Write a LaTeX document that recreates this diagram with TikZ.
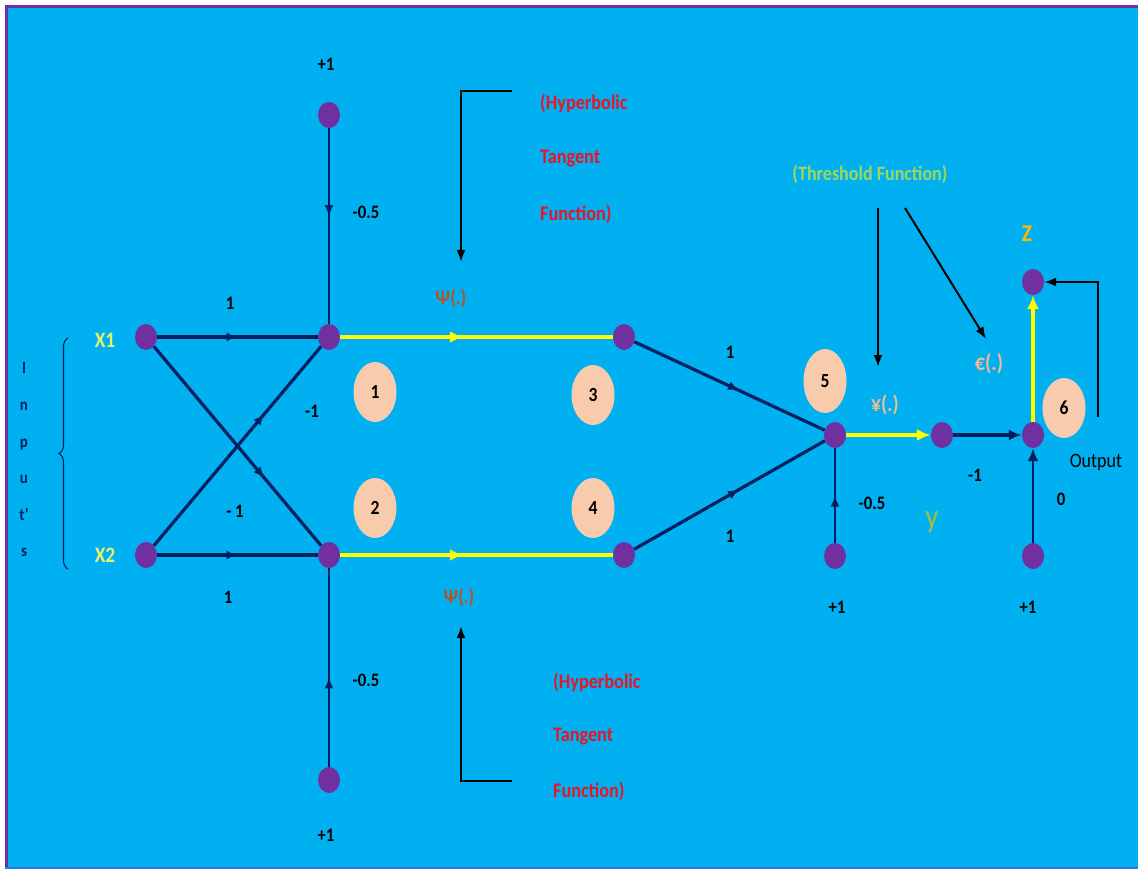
\documentclass[tikz,border=0pt]{standalone}
\usepackage{fontspec}
\setmainfont{Carlito}[FakeStretch=0.88]
\usetikzlibrary{arrows.meta,shapes.geometric,decorations.markings,decorations.pathreplacing}

\definecolor{bgblue}{RGB}{0,176,240}
\definecolor{framepurple}{RGB}{112,48,160}
\definecolor{bottomline}{RGB}{40,120,230}
\definecolor{unitpurple}{RGB}{112,48,160}
\definecolor{peach}{RGB}{248,203,173}
\definecolor{navy}{RGB}{0,32,96}
\definecolor{signal}{RGB}{255,255,0}
\definecolor{redtext}{RGB}{232,20,40}
\definecolor{greentext}{RGB}{160,215,90}
\definecolor{psitext}{RGB}{190,80,30}
\definecolor{functext}{RGB}{246,185,140}
\definecolor{ztext}{RGB}{255,185,0}
\definecolor{xtext}{RGB}{235,240,110}
\definecolor{ytext}{RGB}{165,190,60}

\tikzset{
  unit/.style={ellipse, fill=unitpurple, minimum width=22pt, minimum height=26pt, inner sep=0pt},
  numbox/.style={ellipse, fill=peach, minimum width=43pt, minimum height=60pt, inner sep=0pt,
    font=\bfseries\fontsize{20}{22}\selectfont, text=black},
  lbl/.style={inner sep=0pt, font=\bfseries\fontsize{19}{22}\selectfont, text=black},
  redlbl/.style={inner sep=0pt, anchor=west, font=\bfseries\fontsize{20.7}{24}\selectfont, text=redtext},
  midarrow/.style={postaction={decorate}, decoration={markings,
    mark=at position #1 with {\arrow{Latex[length=11pt,width=9pt]}}}},
  yelmid/.style={postaction={decorate}, decoration={markings,
    mark=at position #1 with {\arrow{Latex[length=13pt,width=12pt]}}}},
  wire/.style={draw=navy, line width=3.2pt},
  feed/.style={draw=signal, line width=4.5pt},
  pointer/.style={draw=black, line width=2pt, -{Latex[length=12pt,width=9pt]}},
}

\begin{document}
\begin{tikzpicture}[x=1pt, y=-1pt]
\useasboundingbox (0,0) rectangle (1138,869);
% page, panel and frame
\fill[white] (0,0) rectangle (1138,869);
\fill[bgblue] (5,5) rectangle (1138,869);
\draw[framepurple, line width=3pt] (6.5,869) -- (6.5,6.5) -- (1138,6.5);
\draw[bottomline, line width=2pt] (5,868) -- (1138,868);

% units
\node[unit] (x1) at (146,337) {};
\node[unit] (x2) at (146,555) {};
\node[unit] (b1) at (329,115) {};
\node[unit] (h1) at (329,337) {};
\node[unit] (h2) at (329,555) {};
\node[unit] (b2) at (329,780) {};
\node[unit] (n3) at (624,337) {};
\node[unit] (n4) at (624,555) {};
\node[unit] (n5) at (835,435) {};
\node[unit] (b5) at (835,556) {};
\node[unit] (n7) at (942,435) {};
\node[unit] (n6) at (1033,435) {};
\node[unit] (b6) at (1033,556) {};
\node[unit] (z)  at (1033,282) {};

% numbered neurons
\node[numbox] (c1) at (375,392) {1};
\node[numbox] (c2) at (375,508) {2};
\node[numbox] (c3) at (593,395) {3};
\node[numbox] (c4) at (593,508) {4};
\node[numbox, minimum height=64pt] (c5) at (825,381) {5};
\node[numbox] (c6) at (1064,408) {6};

% input layer
\draw[wire, midarrow=0.5]  (x1) -- (h1);
\draw[wire, midarrow=0.5]  (x2) -- (h2);
\draw[wire, midarrow=0.66] (x1) -- (h2);
\draw[wire, midarrow=0.66] (x2) -- (h1);
\draw[wire, line width=2.6pt, midarrow=0.45] (b1) -- (h1);
\draw[wire, line width=2.6pt, midarrow=0.45] (b2) -- (h2);

% hidden layer activations
\draw[feed, yelmid=0.45] (h1) -- (n3);
\draw[feed, yelmid=0.45] (h2) -- (n4);

% output neuron
\draw[wire, midarrow=0.55] (n3) -- (n5);
\draw[wire, midarrow=0.55] (n4) -- (n5);
\draw[wire, line width=2.6pt, midarrow=0.5] (b5) -- (n5);
\draw[feed, -{Latex[length=14pt,width=12pt]}] (n5) -- (n7);
\draw[wire, -{Latex[length=13pt,width=11pt]}] (n7) -- (n6);
\draw[wire, line width=2.6pt, -{Latex[length=13pt,width=11pt]}] (b6) -- (n6);
\draw[feed, line width=4pt, -{Latex[length=14pt,width=12pt]}] (n6) -- (z);

% feedback to Z
\coordinate (fb) at (1098,417);
\draw[pointer] (fb) |- (z);

% annotation pointers
\coordinate (ta) at (512,91);
\coordinate (tb) at (461,91);
\coordinate (tc) at (461,262);
\draw[pointer] (ta) -- (tb) -- (tc);
\coordinate (ba) at (512,781);
\coordinate (bb) at (461,781);
\coordinate (bc) at (461,626);
\draw[pointer] (ba) -- (bb) -- (bc);
\coordinate (tha) at (878,208);
\coordinate (thb) at (878,367);
\draw[pointer] (tha) -- (thb);
\coordinate (thc) at (905,208);
\coordinate (thd) at (986,339);
\draw[pointer] (thc) -- (thd);

% inputs brace
\coordinate (bra) at (68,569);
\coordinate (brb) at (68,338);
\draw[navy, line width=1.1pt, decorate, decoration={brace, amplitude=9pt}] (bra) -- (brb);
\node[inner sep=0pt, align=center, text=navy, font=\bfseries\fontsize{17}{36.6}\selectfont] (inp) at (24,460)
  {I\\n\\p\\u\\t’\\s};

% weights and bias values
\node[lbl] (w11) at (230,303) {1};
\node[lbl] (w22) at (228,597) {1};
\node[lbl] (w21) at (312,411) {-1};
\node[lbl] (w12) at (235,511) {- 1};
\node[lbl] (p1a) at (326,64) {+1};
\node[lbl] (v1a) at (366,212) {-0.5};
\node[lbl] (p1b) at (326,835) {+1};
\node[lbl] (v1b) at (366,680) {-0.5};
\node[lbl] (w35) at (730,352) {1};
\node[lbl] (w45) at (730,536) {1};
\node[lbl] (v5)  at (872,503) {-0.5};
\node[lbl] (p5)  at (837,607) {+1};
\node[lbl] (w76) at (975,475) {-1};
\node[lbl] (v6)  at (1061,499) {0};
\node[lbl] (p6)  at (1028,607) {+1};
\node[inner sep=0pt, text=black, font=\fontsize{20.5}{22}\selectfont] (out) at (1096,462) {Output};

% signal names
\node[inner sep=0pt, text=xtext, font=\bfseries\fontsize{22}{24}\selectfont] (lx1) at (105,340) {X1};
\node[inner sep=0pt, text=xtext, font=\bfseries\fontsize{22}{24}\selectfont] (lx2) at (105,555) {X2};
\node[inner sep=0pt, text=psitext, font=\bfseries\fontsize{20.5}{22}\selectfont] (psia) at (451,298) {Ψ(.)};
\node[inner sep=0pt, text=psitext, font=\bfseries\fontsize{20.5}{22}\selectfont] (psib) at (459,597) {Ψ(.)};
\node[inner sep=0pt, text=functext, font=\bfseries\fontsize{22.5}{24}\selectfont] (yen) at (885,405) {¥(.)};
\node[inner sep=0pt, text=functext, font=\bfseries\fontsize{23}{25}\selectfont] (eur) at (989,364) {€(.)};
\node[inner sep=0pt, text=ztext, font=\bfseries\fontsize{24}{26}\selectfont] (lz) at (1027,234) {Z};
\node[inner sep=0pt, text=ytext, font=\fontsize{33}{35}\selectfont] (ly) at (932,522) {y};

% function captions
\node[redlbl] (ha1) at (540,103) {(Hyperbolic};
\node[redlbl] (ha2) at (540,159) {Tangent};
\node[redlbl] (ha3) at (540,214) {Function)};
\node[redlbl] (hb1) at (553,682) {(Hyperbolic};
\node[redlbl] (hb2) at (553,737) {Tangent};
\node[redlbl] (hb3) at (553,791) {Function)};
\node[inner sep=0pt, text=greentext, font=\bfseries\fontsize{20.5}{23}\selectfont] (thr) at (870,174) {(Threshold Function)};
\end{tikzpicture}
\end{document}
